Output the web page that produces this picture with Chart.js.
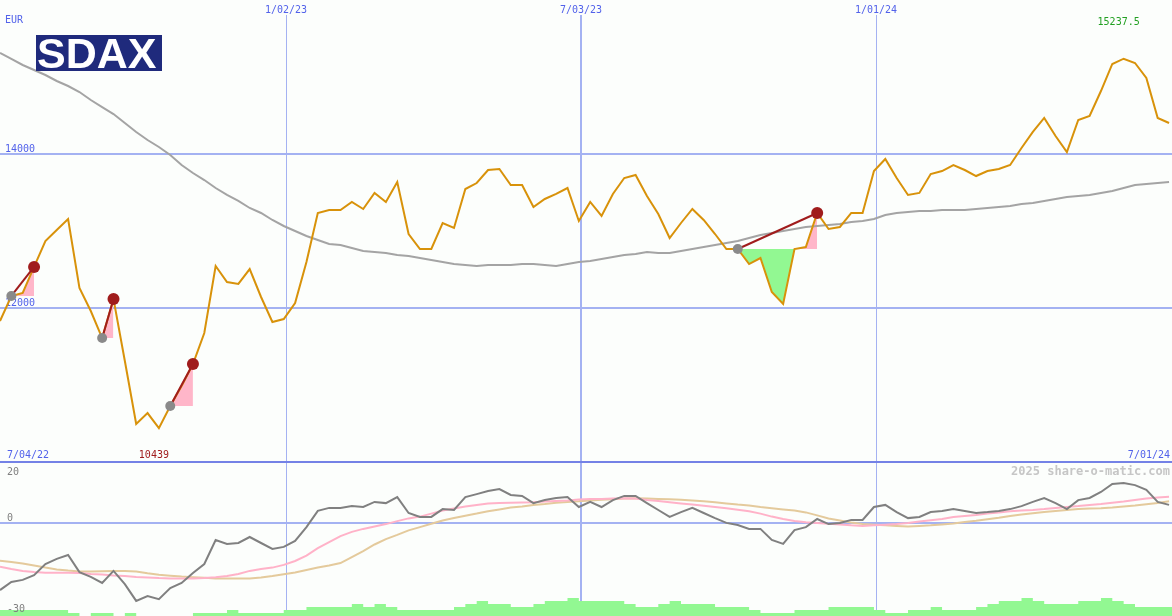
<!DOCTYPE html>
<html>
<head>
<meta charset="utf-8">
<script src="https://cdn.jsdelivr.net/npm/chart.js@4.4.1/dist/chart.umd.min.js"></script>
<style>
  html, body { margin: 0; padding: 0; background: #fcfefc; }
  #wrap { position: relative; width: 1172px; height: 616px; overflow: hidden; background: #fcfefc; }
  canvas { position: absolute; left: 0; }
  #priceChart { top: 0; }
  #oscChart { top: 462px; }
</style>
</head>
<body>
<div id="wrap">
  <canvas id="priceChart" width="1172" height="462"></canvas>
  <canvas id="oscChart" width="1172" height="154"></canvas>
</div>
<script>
// weekly closes, SDAX (EUR), index 0 = first week shown
const price = [
  11831, 12156, 12195, 12533, 12870, 13013, 13156, 12260, 11961, 11610,
  12117, 11312, 10494, 10636, 10439, 10727, 10987, 11273, 11675, 12545,
  12338, 12312, 12506, 12143, 11818, 11857, 12065, 12597, 13234, 13273,
  13273, 13377, 13286, 13494, 13377, 13636, 12961, 12766, 12766, 13104,
  13039, 13545, 13623, 13792, 13805, 13597, 13597, 13312, 13416, 13481,
  13558, 13130, 13377, 13195, 13481, 13688, 13727, 13455, 13221, 12909,
  13104, 13286, 13143, 12961, 12766, 12766, 12571, 12649, 12208, 12052,
  12766, 12792, 13234, 13026, 13052, 13234, 13234, 13779, 13935, 13688,
  13468, 13494, 13740, 13779, 13857, 13792, 13714, 13779, 13805, 13857,
  14078, 14286, 14468, 14234, 14026, 14442, 14494, 14818, 15169, 15237.5,
  15182, 14987, 14468, 14403
];

// long moving average
const avgLine = [
  15312, 15234, 15156, 15091, 15026, 14948, 14883, 14805, 14701, 14610,
  14519, 14403, 14286, 14182, 14091, 13987, 13857, 13753, 13662, 13558,
  13468, 13390, 13299, 13234, 13143, 13065, 13000, 12935, 12883, 12831,
  12818, 12779, 12740, 12727, 12714, 12688, 12675, 12649, 12623, 12597,
  12571, 12558, 12545, 12558, 12558, 12558, 12571, 12571, 12558, 12545,
  12571, 12597, 12610, 12636, 12662, 12688, 12701, 12727, 12714, 12714,
  12740, 12766, 12792, 12818, 12844, 12870, 12909, 12948, 12974, 13000,
  13026, 13052, 13065, 13078, 13091, 13117, 13130, 13156, 13208, 13234,
  13247, 13260, 13260, 13273, 13273, 13273, 13286, 13299, 13312, 13325,
  13351, 13364, 13390, 13416, 13442, 13455, 13468, 13494, 13519, 13558,
  13597, 13610, 13623, 13636
];

// lower panel: oscillator and its two smoothings
const oscLine = [
  -22.7, -20, -19.3, -17.7, -14, -12.3, -11, -16.7, -18.3, -20.3,
  -16.3, -20.7, -26.3, -24.7, -25.7, -22, -20.3, -17, -14, -6,
  -7.3, -7, -5, -7, -9, -8.3, -6.3, -1.7, 3.7, 4.7,
  4.7, 5.3, 5, 6.7, 6.3, 8.3, 3, 1.7, 1.7, 4.3,
  4, 8.3, 9.3, 10.3, 11, 9, 8.7, 6.3, 7.3, 8,
  8.3, 5, 6.7, 5, 7.3, 8.7, 8.7, 6.3, 4, 1.7,
  3.3, 4.7, 3, 1.3, -0.3, -1, -2.3, -2.3, -6, -7.3,
  -2.7, -1.7, 1, -0.7, -0.3, 0.7, 0.7, 5, 5.7, 3.3,
  1.3, 1.7, 3.3, 3.7, 4.3, 3.7, 3, 3.3, 3.7, 4.3,
  5.3, 6.7, 8, 6.3, 4.3, 7.3, 8, 10, 12.7, 13,
  12.3, 10.7, 6.7, 5.7
];
const pinkLine = [
  -14.9, -15.7, -16.3, -16.7, -16.9, -16.9, -16.9, -17, -17.3, -17.5,
  -17.8, -18, -18.3, -18.5, -18.7, -18.8, -18.8, -18.8, -18.7, -18.4,
  -18, -17.3, -16.3, -15.7, -15.2, -14.3, -13, -11.2, -8.7, -6.7,
  -4.7, -3.3, -2.3, -1.5, -0.7, 0.3, 1.2, 1.8, 2.8, 3.8,
  4.5, 5.2, 5.7, 6.2, 6.3, 6.4, 6.5, 6.6, 6.8, 7,
  7.2, 7.5, 7.7, 7.7, 7.8, 7.9, 7.8, 7.3, 7, 6.6,
  6.2, 5.8, 5.4, 5, 4.6, 4.1, 3.6, 2.8, 1.8, 1,
  0.3, -0.1, -0.3, -0.6, -0.8, -1.1, -1.3, -1.1, -0.9, -0.7,
  -0.3, 0.2, 0.6, 1, 1.7, 2, 2.3, 2.8, 3.2, 3.6,
  3.8, 4, 4.3, 4.7, 5, 5.3, 5.7, 6, 6.4, 6.8,
  7.3, 7.8, 8.2, 8.4
];
const tanLine = [
  -12.9, -13.3, -13.8, -14.5, -15.2, -15.8, -16.2, -16.5, -16.5, -16.4,
  -16.3, -16.3, -16.5, -17.1, -17.6, -17.9, -18.2, -18.4, -18.6, -18.8,
  -18.8, -18.8, -18.8, -18.5, -18, -17.4, -16.8, -16, -15.2, -14.5,
  -13.7, -11.7, -9.7, -7.5, -5.7, -4.3, -2.8, -1.7, -0.6, 0.5,
  1.3, 2.1, 2.8, 3.6, 4.2, 4.8, 5.2, 5.7, 6, 6.4,
  6.7, 6.9, 7.2, 7.4, 7.6, 7.8, 7.9, 7.8, 7.7, 7.6,
  7.4, 7.2, 6.9, 6.6, 6.2, 5.8, 5.5, 5, 4.6, 4.2,
  3.8, 3.2, 2.2, 1.2, 0.5, -0.2, -0.7, -0.9, -1.1, -1.3,
  -1.5, -1.3, -1.1, -0.8, -0.5, 0, 0.4, 0.9, 1.4, 2,
  2.5, 2.9, 3.3, 3.7, 4, 4.3, 4.5, 4.6, 4.8, 5.2,
  5.5, 5.9, 6.3, 6.9
];
// green strength bars at the bottom (levels)
const barLevel = [
  2, 2, 2, 2, 2, 2, 2, 1, 0, 1,
  1, 0, 1, 0, 0, 0, 0, 0, 1, 1,
  1, 2, 1, 1, 1, 1, 2, 2, 3, 3,
  3, 3, 4, 3, 4, 3, 2, 2, 2, 2,
  2, 3, 4, 5, 4, 4, 3, 3, 4, 5,
  5, 6, 5, 5, 5, 5, 4, 3, 3, 4,
  5, 4, 4, 4, 3, 3, 3, 2, 1, 1,
  1, 2, 2, 2, 3, 3, 3, 3, 2, 1,
  1, 2, 2, 3, 2, 2, 2, 3, 4, 5,
  5, 6, 5, 4, 4, 4, 5, 5, 6, 5,
  4, 3, 3, 3
];

// buy signals: start week (grey dot) and end week (red dot)
const signalStart = [1, 9, 15, 65];
const signalEnd = [3, 10, 17, 72];

// date grid (week positions) and labels
const gridWeeks = [25.2, 51.19, 77.18];
const gridLabels = ['1/02/23', '7/03/23', '1/01/24'];
const gridWidths = [1, 2, 1];
const priceTicks = [14000, 12000];
const oscTicks = [20, 0, -30];
const startLabel = '7/04/22';
const endLabel = '7/01/24';

const X_MAX = 103.26;
const GRID = '#a4b2f2';
const SEP = '#7482e6';
const BLUE = '#5262ea';
const FONT = '10px "DejaVu Sans Mono", monospace';

const xy = arr => arr.map((v, i) => ({ x: i, y: v }));

function baseOptions(ymin, ymax, extraScales) {
    return {
        responsive: false,
        animation: false,
        devicePixelRatio: 1,
        layout: { padding: 0, autoPadding: false },
        plugins: { legend: { display: false }, tooltip: { enabled: false } },
        elements: { point: { radius: 0 }, line: { tension: 0 } },
        scales: Object.assign({
            x: { type: 'linear', min: 0, max: X_MAX, display: false },
            y: { min: ymin, max: ymax, display: false }
        }, extraScales || {})
    };
}

function drawVerticals(chart, top) {
    const { ctx, scales: { x } } = chart;
    ctx.fillStyle = GRID;
    gridWeeks.forEach((w, i) => {
        const px = Math.round(x.getPixelForValue(w));
        const lw = gridWidths[i];
        ctx.fillRect(px - (lw > 1 ? 1 : 0), top, lw, chart.height - top);
    });
}

/* ---------- top panel ---------- */

const topDecor = {
    id: 'topDecor',
    beforeDatasetsDraw(chart) {
        const { ctx, scales: { x, y } } = chart;
        ctx.save();
        drawVerticals(chart, 15);
        ctx.fillStyle = GRID;
        priceTicks.forEach(v => {
            const py = Math.round(y.getPixelForValue(v));
            ctx.fillRect(0, py - 1, chart.width, 2);
        });
        ctx.fillStyle = SEP;
        ctx.fillRect(0, chart.height - 1, chart.width, 1);

        ctx.font = FONT;
        ctx.textBaseline = 'alphabetic';
        ctx.fillStyle = BLUE;
        ctx.textAlign = 'left';
        ctx.fillText('EUR', 5, 23);
        priceTicks.forEach(v => {
            ctx.fillText(String(v), 5, Math.round(y.getPixelForValue(v)) - 2);
        });
        ctx.fillText(startLabel, 7, 458);
        ctx.textAlign = 'right';
        ctx.fillText(endLabel, 1170, 458);
        ctx.textAlign = 'center';
        gridWeeks.forEach((w, i) => {
            ctx.fillText(gridLabels[i], Math.round(x.getPixelForValue(w)), 13);
        });

        const hi = price.indexOf(Math.max(...price));
        const lo = price.indexOf(Math.min(...price));
        ctx.fillStyle = '#22a022';
        ctx.fillText(String(price[hi]), x.getPixelForValue(hi) - 5, 25);
        ctx.fillStyle = '#a01c1c';
        ctx.fillText(String(price[lo]), x.getPixelForValue(lo) - 5, 458);
        ctx.restore();
    },
    afterDatasetsDraw(chart) {
        const ctx = chart.ctx;
        ctx.save();
        ctx.fillStyle = '#1f2a7c';
        ctx.fillRect(36, 35, 126, 36);
        ctx.fillStyle = '#ffffff';
        ctx.font = 'bold 43px "Liberation Sans", Arial, sans-serif';
        ctx.textAlign = 'left';
        ctx.textBaseline = 'alphabetic';
        ctx.fillText('SDAX', 37, 68, 125);
        ctx.restore();
    }
};

const signalFills = signalStart.map((s, k) => {
    const pts = [];
    for (let i = s; i <= signalEnd[k]; i++) pts.push({ x: i, y: price[i] });
    return {
        data: pts,
        borderWidth: 0,
        borderColor: 'rgba(0,0,0,0)',
        pointRadius: 0,
        fill: { target: { value: price[s] }, above: '#ffb6c9', below: '#92f892' },
        order: 6
    };
});

const signalLines = signalStart.map((s, k) => ({
    data: [{ x: s, y: price[s] }, { x: signalEnd[k], y: price[signalEnd[k]] }],
    borderColor: '#a01c1c',
    borderWidth: 2,
    pointRadius: [5, 6],
    pointBackgroundColor: ['#8a8a8a', '#a01c1c'],
    pointBorderWidth: 0,
    fill: false,
    order: 1
}));

new Chart(document.getElementById('priceChart'), {
    type: 'line',
    data: {
        datasets: [
            ...signalLines,
            { data: xy(price), borderColor: '#d8920a', borderWidth: 2, fill: false, order: 2 },
            { data: xy(avgLine), borderColor: '#a4a4a4', borderWidth: 2, fill: false, order: 3 },
            ...signalFills
        ]
    },
    options: baseOptions(10000, 16000),
    plugins: [topDecor]
});

/* ---------- lower panel ---------- */

const bottomDecor = {
    id: 'bottomDecor',
    beforeDatasetsDraw(chart) {
        const { ctx, scales: { y } } = chart;
        ctx.save();
        drawVerticals(chart, 0);
        ctx.fillStyle = GRID;
        const y0 = Math.round(y.getPixelForValue(0));
        ctx.fillRect(0, y0, chart.width, 2);
        ctx.fillStyle = SEP;
        ctx.fillRect(0, 0, chart.width, 1);

        ctx.font = 'bold 12px "DejaVu Sans Mono", monospace';
        ctx.fillStyle = '#c6c6c6';
        ctx.textAlign = 'right';
        ctx.fillText('2025 share-o-matic.com', 1170, 13);
        ctx.restore();
    },
    afterDatasetsDraw(chart) {
        const ctx = chart.ctx;
        ctx.save();
        ctx.font = FONT;
        ctx.fillStyle = '#808080';
        ctx.textAlign = 'left';
        ctx.textBaseline = 'alphabetic';
        const base = [13, 59, 150];
        oscTicks.forEach((v, i) => ctx.fillText(String(v), 7, base[i]));
        ctx.restore();
    }
};

const barPts = xy(barLevel);
barPts.push({ x: barLevel.length, y: barLevel[barLevel.length - 1] });

new Chart(document.getElementById('oscChart'), {
    type: 'line',
    data: {
        datasets: [
            { data: xy(oscLine), borderColor: '#808080', borderWidth: 2, fill: false, order: 1 },
            { data: xy(pinkLine), borderColor: '#ffb2c8', borderWidth: 2, fill: false, order: 2 },
            { data: xy(tanLine), borderColor: '#e4ca9c', borderWidth: 2, fill: false, order: 3 },
            {
                data: barPts, yAxisID: 'yb', stepped: 'after',
                borderWidth: 0, borderColor: 'rgba(0,0,0,0)',
                backgroundColor: '#92f892', fill: 'start', order: 4
            }
        ]
    },
    options: baseOptions(-31.333, 20, { yb: { min: 0, max: 51.333, display: false } }),
    plugins: [bottomDecor]
});
</script>
</body>
</html>
